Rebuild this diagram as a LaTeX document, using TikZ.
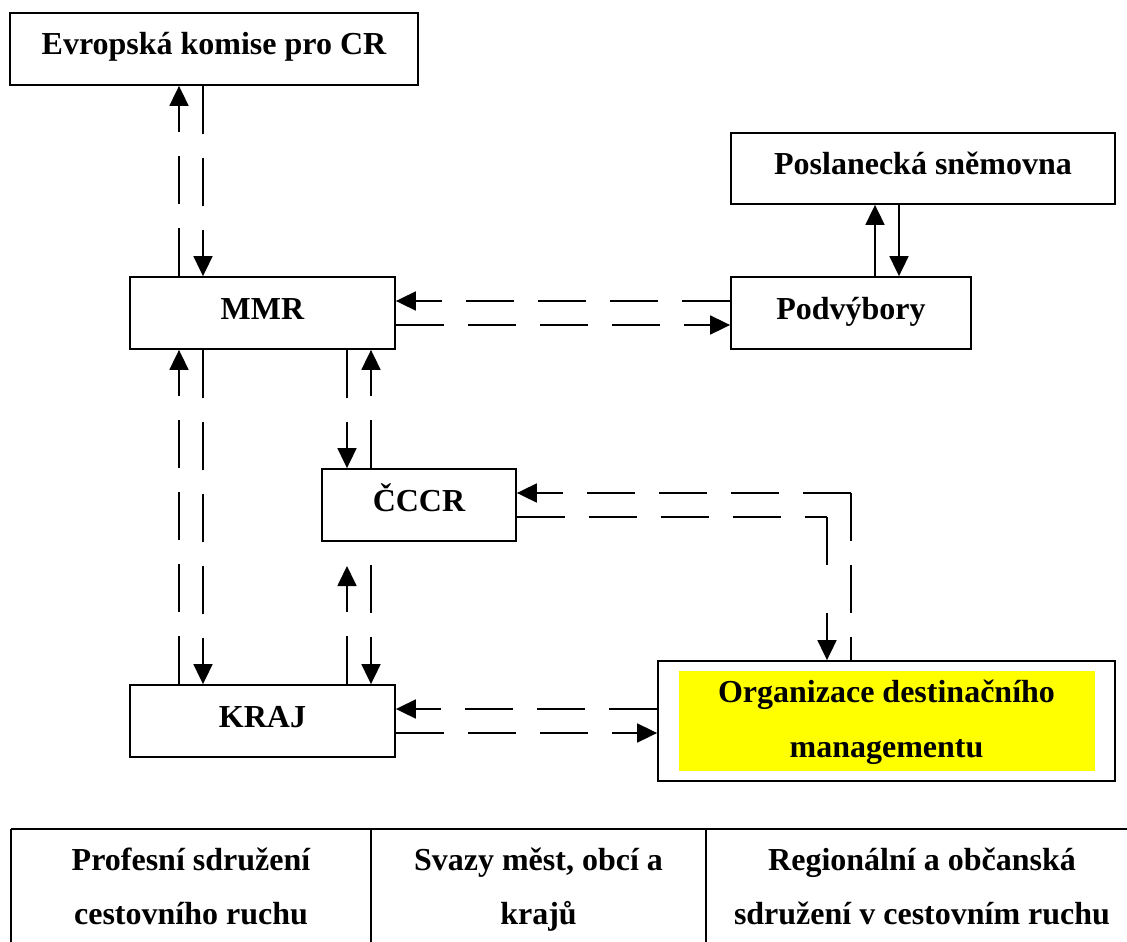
\documentclass[tikz,border=0pt]{standalone}
\usepackage{fontspec}
\setmainfont{Liberation Serif}
\usetikzlibrary{arrows.meta}
\definecolor{odmyellow}{RGB}{255,255,0}
\begin{document}
\begin{tikzpicture}[x=1pt,y=-1pt,
  txt/.style={font=\bfseries\fontsize{32}{38}\selectfont},
  blk/.style={draw, line width=1.8pt, inner sep=0pt, text height=18pt, text depth=6pt, txt},
  lbl/.style={inner sep=0pt, anchor=base, txt},
  lnk/.style={line width=1.8pt},
  dsh/.style={lnk, dash pattern=on 48pt off 24pt},
  arr/.style={-{Triangle[length=20pt,width=19pt]}}
]
\clip (0,0) rectangle (1127,942);

% boxes
\node[blk, minimum width=408pt, minimum height=72pt] (evr) at (214,49) {Evropská komise pro CR};
\node[blk, minimum width=384pt, minimum height=71pt] (posl) at (923,168.5) {Poslanecká sněmovna};
\node[blk, minimum width=265pt, minimum height=72pt] (mmr) at (262.5,313) {MMR};
\node[blk, minimum width=240pt, minimum height=72pt] (podv) at (851,313) {Podvýbory};
\node[blk, minimum width=194pt, minimum height=72pt] (cccr) at (419,505) {ČCCR};
\node[blk, minimum width=265pt, minimum height=72pt] (kraj) at (262.5,721) {KRAJ};
\node[draw, line width=1.8pt, minimum width=457pt, minimum height=120pt, inner sep=0pt] (odm) at (886.5,721) {};
\node[fill=odmyellow, minimum width=416pt, minimum height=100pt, inner sep=0pt] (odmfill) at (887,721) {};
\node[lbl] (odma) at (886.5,702) {Organizace destinačního};
\node[lbl] (odmb) at (886.5,757) {managementu};

% helper coordinates
\coordinate (xa) at (179,0);
\coordinate (xb) at (203,0);
\coordinate (xc) at (347,0);
\coordinate (xd) at (371,0);
\coordinate (xe) at (875,0);
\coordinate (xf) at (899,0);
\coordinate (ya) at (0,301);
\coordinate (yb) at (0,325);
\coordinate (ye) at (0,709);
\coordinate (yf) at (0,733);
\coordinate (ka) at (347,566);
\coordinate (kb) at (371,565);
\coordinate (ca) at (851,493);
\coordinate (cb) at (827,517);

% Evropska - MMR
\draw[dsh,arr] (mmr.north -| xa) -- (evr.south -| xa);
\draw[dsh,arr] (evr.south -| xb) -- (mmr.north -| xb);
% Poslanecka - Podvybory
\draw[lnk,arr] (podv.north -| xe) -- (posl.south -| xe);
\draw[lnk,arr] (posl.south -| xf) -- (podv.north -| xf);
% MMR - Podvybory
\draw[dsh,arr] (podv.west |- ya) -- (mmr.east |- ya);
\draw[dsh,arr] (mmr.east |- yb) -- (podv.west |- yb);
% MMR - CCCR
\draw[dsh,arr] (mmr.south -| xc) -- (cccr.north -| xc);
\draw[dsh,arr] (cccr.north -| xd) -- (mmr.south -| xd);
% MMR - KRAJ
\draw[dsh,arr] (kraj.north -| xa) -- (mmr.south -| xa);
\draw[dsh,arr] (mmr.south -| xb) -- (kraj.north -| xb);
% KRAJ - CCCR
\draw[dsh,arr] (kraj.north -| ka) -- (ka);
\draw[dsh,arr] (kb) -- (kraj.north -| kb);
% CCCR - ODM
\draw[dsh] (ca) -- (odm.north -| ca);
\draw[dsh,arr] (ca) -- (cccr.east |- ca);
\draw[dsh] (cccr.east |- cb) -- (cb);
\draw[lnk,dash pattern=on 48pt off 48pt,arr] (cb) -- (odm.north -| cb);
% KRAJ - ODM
\draw[dsh,arr] (odm.west |- ye) -- (kraj.east |- ye);
\draw[dsh,arr] (kraj.east |- yf) -- (odm.west |- yf);

% bottom table
\draw[lnk] (11,829) -- (1145,829);
\draw[lnk] (11,829) -- (11,960);
\draw[lnk] (371,829) -- (371,960);
\draw[lnk] (706,829) -- (706,960);
\node[lbl] (t1a) at (191,870) {Profesní sdružení};
\node[lbl] (t1b) at (191,924) {cestovního ruchu};
\node[lbl] (t2a) at (538.5,870) {Svazy měst, obcí a};
\node[lbl] (t2b) at (538.5,924) {krajů};
\node[lbl] (t3a) at (922,870) {Regionální a občanská};
\node[lbl] (t3b) at (922,924) {sdružení v cestovním ruchu};
\end{tikzpicture}
\end{document}
